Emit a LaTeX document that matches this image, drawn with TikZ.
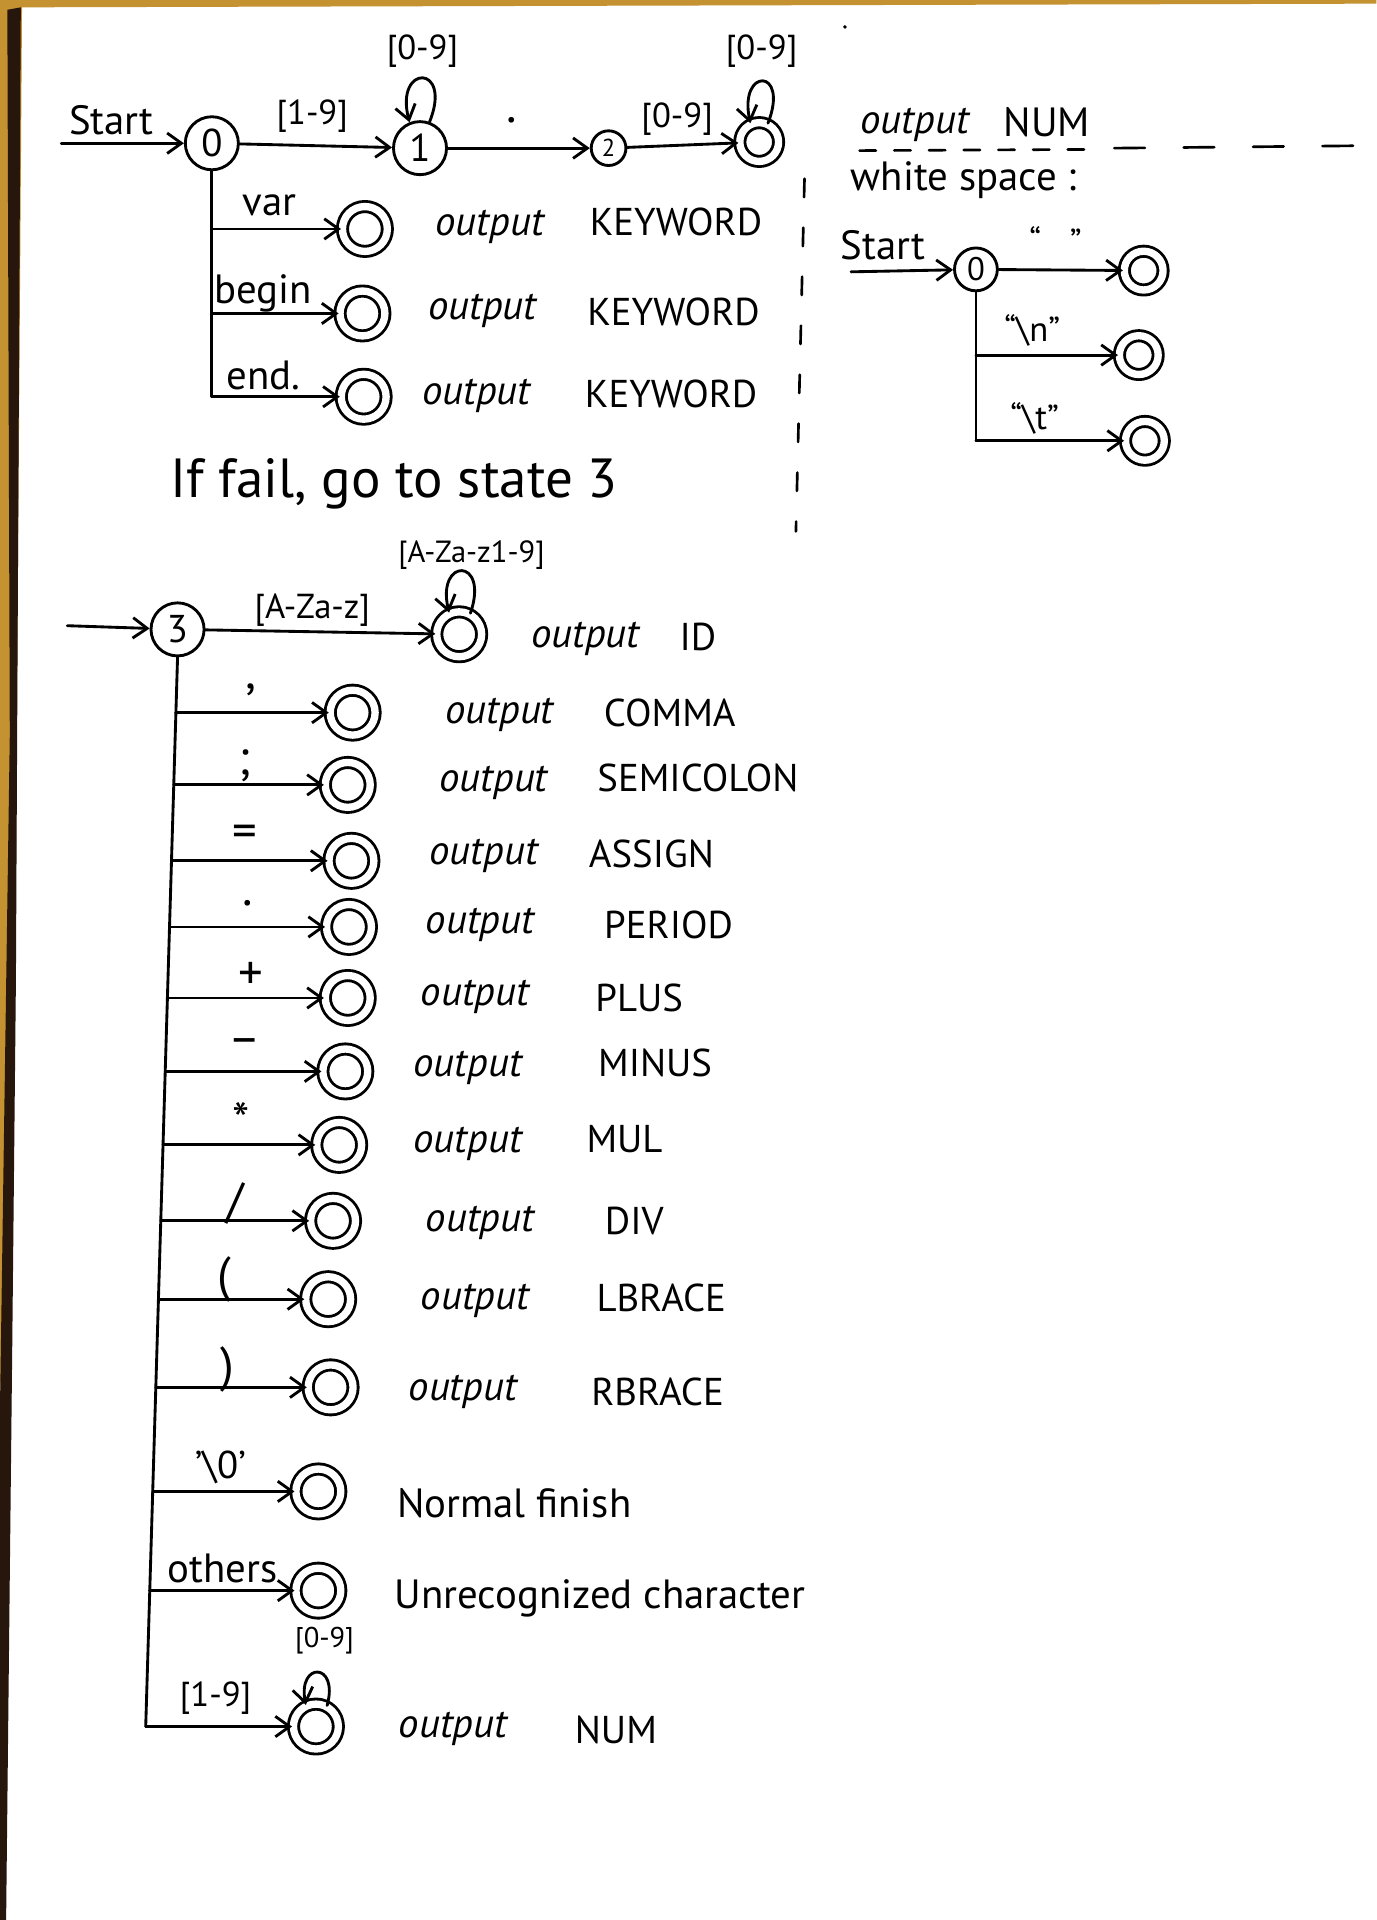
\documentclass[tikz,border=0pt]{standalone}
\usepackage{fontspec}
\setmainfont{PT Sans}
\usetikzlibrary{arrows.meta}
\definecolor{wood}{RGB}{196,146,48}
\definecolor{edgeshade}{RGB}{38,22,12}
\begin{document}
\begin{tikzpicture}[x=0.6pt,y=0.6pt,
  ink/.style={line width=1.4pt,draw=black,line cap=round,line join=round},
  arr/.style={ink,-{Straight Barb[length=7pt,width=10pt,line width=1.4pt]}},
  st/.style={circle,ink,minimum size=26pt,inner sep=0pt,font=\fontsize{19}{19}\selectfont},
  stsm/.style={circle,ink,minimum size=17pt,inner sep=0pt,font=\fontsize{12}{12}\selectfont},
  stws/.style={circle,ink,minimum size=21pt,inner sep=0pt,font=\fontsize{16}{16}\selectfont},
  acc/.style={circle,ink,double,double distance=3.6pt,minimum size=22pt,inner sep=0pt},
  accsm/.style={acc,minimum size=19pt},
  lbl/.style={inner sep=0pt,font=\fontsize{17}{17}\selectfont},
  punct/.style={inner sep=0pt,font=\fontsize{24}{24}\selectfont},
  word/.style={inner sep=0pt,font=\fontsize{20}{20}\selectfont},
  outp/.style={inner sep=0pt,font=\itshape\fontsize{20}{20}\selectfont},
  tok/.style={inner sep=0pt,font=\fontsize{19}{19}\selectfont},
  divider/.style={line width=1.3pt,line cap=round},
]
% sheet of paper and the table edge around it
\fill[white] (0,0) rectangle (1124,-1568);
\useasboundingbox (0,0) rectangle (1124,-1568);
\fill[wood] (0,0) -- (1124,0) -- (1124,-3) -- (18,-6) -- (13,-700) -- (0,-1150) -- cycle;
\fill[edgeshade] (6,-8) -- (17,-6) -- (13,-800) -- (10,-1100) -- (5,-1568) -- (0,-1568) -- (0,-1150) -- (8,-600) -- cycle;
\fill[black] (690,-22) circle (1.6);

% ---------- number recogniser ----------
\node[st] (q0) at (173,-117) {0};
\node[st] (q1) at (343,-121) {1};
\node[stsm] (q2) at (497,-121) {2};
\node[accsm] (qa) at (620,-116) {};
\coordinate (startA) at (50,-117);
\draw[arr] (startA) -- (q0);
\node[word,anchor=base] (startT) at (91,-110) {Start};
\draw[arr] (q0) -- (q1);
\node[lbl] (l19) at (255,-95) {[1-9]};
\draw[arr] (q1.70) .. controls (370,-52) and (322,-52) .. (q1.112);
\node[lbl] (l09a) at (345,-42) {[0-9]};
\draw[arr] (q1) -- (q2);
\node[punct] (ldot) at (418,-98) {.};
\draw[arr] (q2) -- (qa);
\node[lbl] (l09b) at (553,-97) {[0-9]};
\draw[arr] (qa.65) .. controls (645,-55) and (603,-55) .. (qa.115);
\node[lbl] (l09c) at (622,-42) {[0-9]};

% ---------- keywords ----------
\node[acc] (kw1) at (298,-187) {};
\node[acc] (kw2) at (296,-256) {};
\node[acc] (kw3) at (297,-324) {};
\draw[ink] (q0.south) -- (q0.south |- kw3);
\draw[arr] (q0.south |- kw1) -- (kw1);
\draw[arr] (q0.south |- kw2) -- (kw2);
\draw[arr] (q0.south |- kw3) -- (kw3);
\node[word] (kvar) at (220,-168) {var};
\node[word] (kbegin) at (215,-240) {begin};
\node[word] (kend) at (215,-307) {end.};
\node[outp] (o1) at (400,-185) {output};
\node[outp] (o2) at (394,-254) {output};
\node[outp] (o3) at (389,-323) {output};
\node[tok] (t1) at (552,-181) {KEYWORD};
\node[tok] (t2) at (550,-255) {KEYWORD};
\node[tok] (t3) at (548,-322) {KEYWORD};

% ---------- divider ----------
\draw[divider,dash pattern=on 9pt off 15pt] (657,-146) -- (650,-434);
\draw[divider,dash pattern=on 8pt off 9pt] (702,-123) -- (895,-122);
\draw[divider,dash pattern=on 15pt off 19pt] (910,-121) -- (1112,-119);

% ---------- white space ----------
\node[outp] (ow) at (747,-102) {output};
\node[word] (nw) at (855,-100) {NUM};
\node[word] (wsT) at (787,-147) {white space :};
\node[stws] (w0) at (797,-220) {0};
\node[accsm] (wa1) at (934,-221) {};
\node[accsm] (wa2) at (930,-290) {};
\node[accsm] (wa3) at (935,-360) {};
\coordinate (startB) at (695,-222);
\draw[arr] (startB) -- (w0);
\node[word,anchor=base] (startW) at (721,-212) {Start};
\draw[arr] (w0) -- (wa1);
\draw[ink] (w0.south) -- (w0.south |- wa3);
\draw[arr] (w0.south |- wa2) -- (wa2);
\draw[arr] (w0.south |- wa3) -- (wa3);
\node[lbl] (lsp) at (862,-196) {“\hspace{14pt}”};
\node[lbl] (lnl) at (843,-270) {“\textbackslash n”};
\node[lbl] (ltab) at (845,-342) {“\textbackslash t”};

% ---------- fallback note ----------
\node[inner sep=0pt,font=\fontsize{27}{27}\selectfont] (note) at (322,-395) {If fail, go to state 3};

% ---------- identifiers and symbols ----------
\coordinate (in3) at (55,-511);
\node[st] (q3) at (145,-514) {3};
\draw[arr] (in3) -- (q3);
\node[acc] (id) at (375,-518) {};
\draw[arr] (q3) -- (id);
\node[lbl] (lalpha) at (255,-498) {[A-Za-z]};
\draw[arr] (id.62) .. controls (400,-455) and (356,-455) .. (id.115);
\node[lbl,font=\fontsize{15}{15}\selectfont] (lalnum) at (385,-453) {[A-Za-z1-9]};
\node[outp] (oid) at (478,-522) {output};
\node[tok] (tid) at (570,-520) {ID};

\coordinate (vb) at (119,-1410);
\draw[ink] (q3.south) -- (vb);

\node[acc] (a1) at (288,-582) {};
\node[acc] (a2) at (284,-641) {};
\node[acc] (a3) at (287,-703) {};
\node[acc] (a4) at (285,-757) {};
\node[acc] (a5) at (284,-815) {};
\node[acc] (a6) at (282,-875) {};
\node[acc] (a7) at (277,-935) {};
\node[acc] (a8) at (272,-997) {};
\node[acc] (a9) at (268,-1061) {};
\node[acc] (a10) at (270,-1133) {};
\node[acc] (a11) at (260,-1218) {};
\node[acc] (a12) at (260,-1299) {};
\node[acc] (a13) at (258,-1410) {};

\coordinate (r1) at (143.6,-582);
\coordinate (r2) at (141.9,-641);
\coordinate (r3) at (140.0,-703);
\coordinate (r4) at (138.4,-757);
\coordinate (r5) at (136.7,-815);
\coordinate (r6) at (134.9,-875);
\coordinate (r7) at (133.1,-935);
\coordinate (r8) at (131.3,-997);
\coordinate (r9) at (129.4,-1061);
\coordinate (r10) at (127.2,-1133);
\coordinate (r11) at (124.7,-1218);
\coordinate (r12) at (122.2,-1299);

\draw[arr] (r1) -- (a1);
\draw[arr] (r2) -- (a2);
\draw[arr] (r3) -- (a3);
\draw[arr] (r4) -- (a4);
\draw[arr] (r5) -- (a5);
\draw[arr] (r6) -- (a6);
\draw[arr] (r7) -- (a7);
\draw[arr] (r8) -- (a8);
\draw[arr] (r9) -- (a9);
\draw[arr] (r10) -- (a10);
\draw[arr] (r11) -- (a11);
\draw[arr] (r12) -- (a12);
\draw[arr] (vb) -- (a13);
\draw[arr] (a13.62) .. controls (277,-1357) and (243,-1357) .. (a13.115);

\node[punct] (p1) at (205,-563) {,};
\node[punct] (p2) at (200,-625) {;};
\node[punct] (p3) at (200,-683) {=};
\node[punct] (p4) at (202,-738) {.};
\node[punct] (p5) at (205,-797) {+};
\node[punct] (p6) at (200,-855) {--};
\node[punct] (p7) at (197,-915) {*};
\node[punct] (p8) at (192,-983) {/};
\node[punct] (p9) at (183,-1045) {(};
\node[punct] (p10) at (186,-1118) {)};
\node[lbl,font=\fontsize{19}{19}\selectfont] (p11) at (180,-1198) {'\textbackslash 0'};
\node[word] (p12) at (182,-1281) {others};
\node[lbl] (p13) at (176,-1387) {[1-9]};
\node[lbl,font=\fontsize{14}{14}\selectfont] (p13b) at (265,-1340) {[0-9]};

\node[outp] (s1) at (408,-584) {output};
\node[outp] (s2) at (403,-639) {output};
\node[outp] (s3) at (395,-699) {output};
\node[outp] (s4) at (392,-755) {output};
\node[outp] (s5) at (388,-814) {output};
\node[outp] (s6) at (382,-872) {output};
\node[outp] (s7) at (382,-934) {output};
\node[outp] (s8) at (392,-999) {output};
\node[outp] (s9) at (388,-1062) {output};
\node[outp] (s10) at (378,-1137) {output};
\node[outp] (s13) at (370,-1412) {output};

\node[tok] (k1) at (547,-582) {COMMA};
\node[tok] (k2) at (570,-635) {SEMICOLON};
\node[tok] (k3) at (532,-697) {ASSIGN};
\node[tok] (k4) at (546,-755) {PERIOD};
\node[tok] (k5) at (522,-815) {PLUS};
\node[tok] (k6) at (535,-868) {MINUS};
\node[tok] (k7) at (510,-930) {MUL};
\node[tok] (k8) at (518,-997) {DIV};
\node[tok] (k9) at (540,-1060) {LBRACE};
\node[tok] (k10) at (537,-1137) {RBRACE};
\node[word] (k11) at (420,-1228) {Normal finish};
\node[word] (k12) at (490,-1305) {Unrecognized character};
\node[tok] (k13) at (503,-1413) {NUM};
\end{tikzpicture}
\end{document}
